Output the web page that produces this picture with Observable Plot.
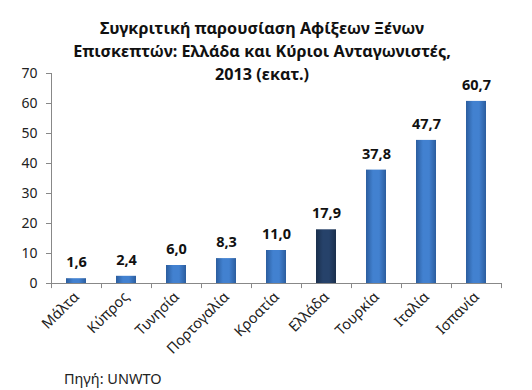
<!DOCTYPE html>
<html><head><meta charset="utf-8">
<script src="https://cdn.jsdelivr.net/npm/d3@7"></script>
<script src="https://cdn.jsdelivr.net/npm/@observablehq/plot@0.6"></script>
<style>
body{margin:0;background:#fff;font-family:"Noto Sans",sans-serif;}
#wrap{position:relative;width:532px;height:390px;}
#title{position:absolute;left:0;top:17px;width:524px;text-align:center;font-weight:bold;font-size:16.2px;line-height:23px;color:#111;}
#cap{position:absolute;left:64px;top:368px;font-size:14.5px;color:#222;}
</style></head>
<body>
<div id="wrap">
<div id="chart"></div>
<div id="title">Συγκριτική παρουσίαση Αφίξεων Ξένων<br>Επισκεπτών: Ελλάδα και Κύριοι Ανταγωνιστές,<br>2013 (εκατ.)</div>
<div id="cap">Πηγή: UNWTO</div>
</div>
<script>
const countries = ["Μάλτα","Κύπρος","Τυνησία","Πορτογαλία","Κροατία","Ελλάδα","Τουρκία","Ιταλία","Ισπανία"];
const arrivals = [1.6, 2.4, 6.0, 8.3, 11.0, 17.9, 37.8, 47.7, 60.7];
const labels = ["1,6","2,4","6,0","8,3","11,0","17,9","37,8","47,7","60,7"];
const highlight = "Ελλάδα";
const yTicks = [0,10,20,30,40,50,60,70];

const data = countries.map((c,i)=>({c, v: arrivals[i], l: labels[i]}));
const last = countries[countries.length-1];

const plot = Plot.plot({
  width: 532, height: 390,
  marginTop: 73, marginLeft: 51, marginRight: 31, marginBottom: 107,
  style: {fontFamily: "Noto Sans, sans-serif", fontSize: "13px", color: "#222"},
  x: {domain: countries, paddingInner: 0.6, paddingOuter: 0.3, label: null},
  y: {domain: [0,70], ticks: yTicks, label: null},
  marks: [
    Plot.axisY({ticks: yTicks, tickSize: 5, tickPadding: 9, stroke: "#888", fontSize: 14}),
    Plot.axisX({tickSize: 0, tickRotate: -45, tickPadding: 11, fontSize: 14.5}),
    Plot.barY(data, {x: "c", y: "v", fill: d => d.c === highlight ? "url(#gdark)" : "url(#gblue)", style:"filter:url(#sh)"}),
    Plot.ruleX(countries, {x: d=>d, dx: -25, y1: 0, y2: -1.7, stroke: "#888"}),
    Plot.ruleX([last], {x: d=>d, dx: 25, y1: 0, y2: -1.7, stroke: "#888"}),
    Plot.ruleY([0], {stroke: "#888"}),
    Plot.frame({anchor: "left", stroke: "#888"}),
    Plot.text(data, {x: "c", y: "v", text: "l", dy: -16, fontWeight: "bold", fontSize: 14.5, fill: "#111"})
  ]
});
const ns = "http://www.w3.org/2000/svg";
const defs = document.createElementNS(ns, "defs");
defs.innerHTML = `
<linearGradient id="gblue" x1="0" x2="1" y1="0" y2="0">
 <stop offset="0" stop-color="#2b5d9e"/><stop offset="0.35" stop-color="#4281d0"/>
 <stop offset="0.65" stop-color="#4281d0"/><stop offset="1" stop-color="#2b5d9e"/></linearGradient>
<linearGradient id="gdark" x1="0" x2="1" y1="0" y2="0">
 <stop offset="0" stop-color="#1a2f4c"/><stop offset="0.35" stop-color="#26426a"/>
 <stop offset="0.65" stop-color="#26426a"/><stop offset="1" stop-color="#1a2f4c"/></linearGradient>
<filter id="sh" x="-30%" y="-10%" width="160%" height="130%"><feDropShadow dx="1" dy="2" stdDeviation="1.5" flood-color="#000" flood-opacity="0.3"/></filter>`;
plot.insertBefore(defs, plot.firstChild);
document.getElementById("chart").appendChild(plot);
</script>
</body></html>
